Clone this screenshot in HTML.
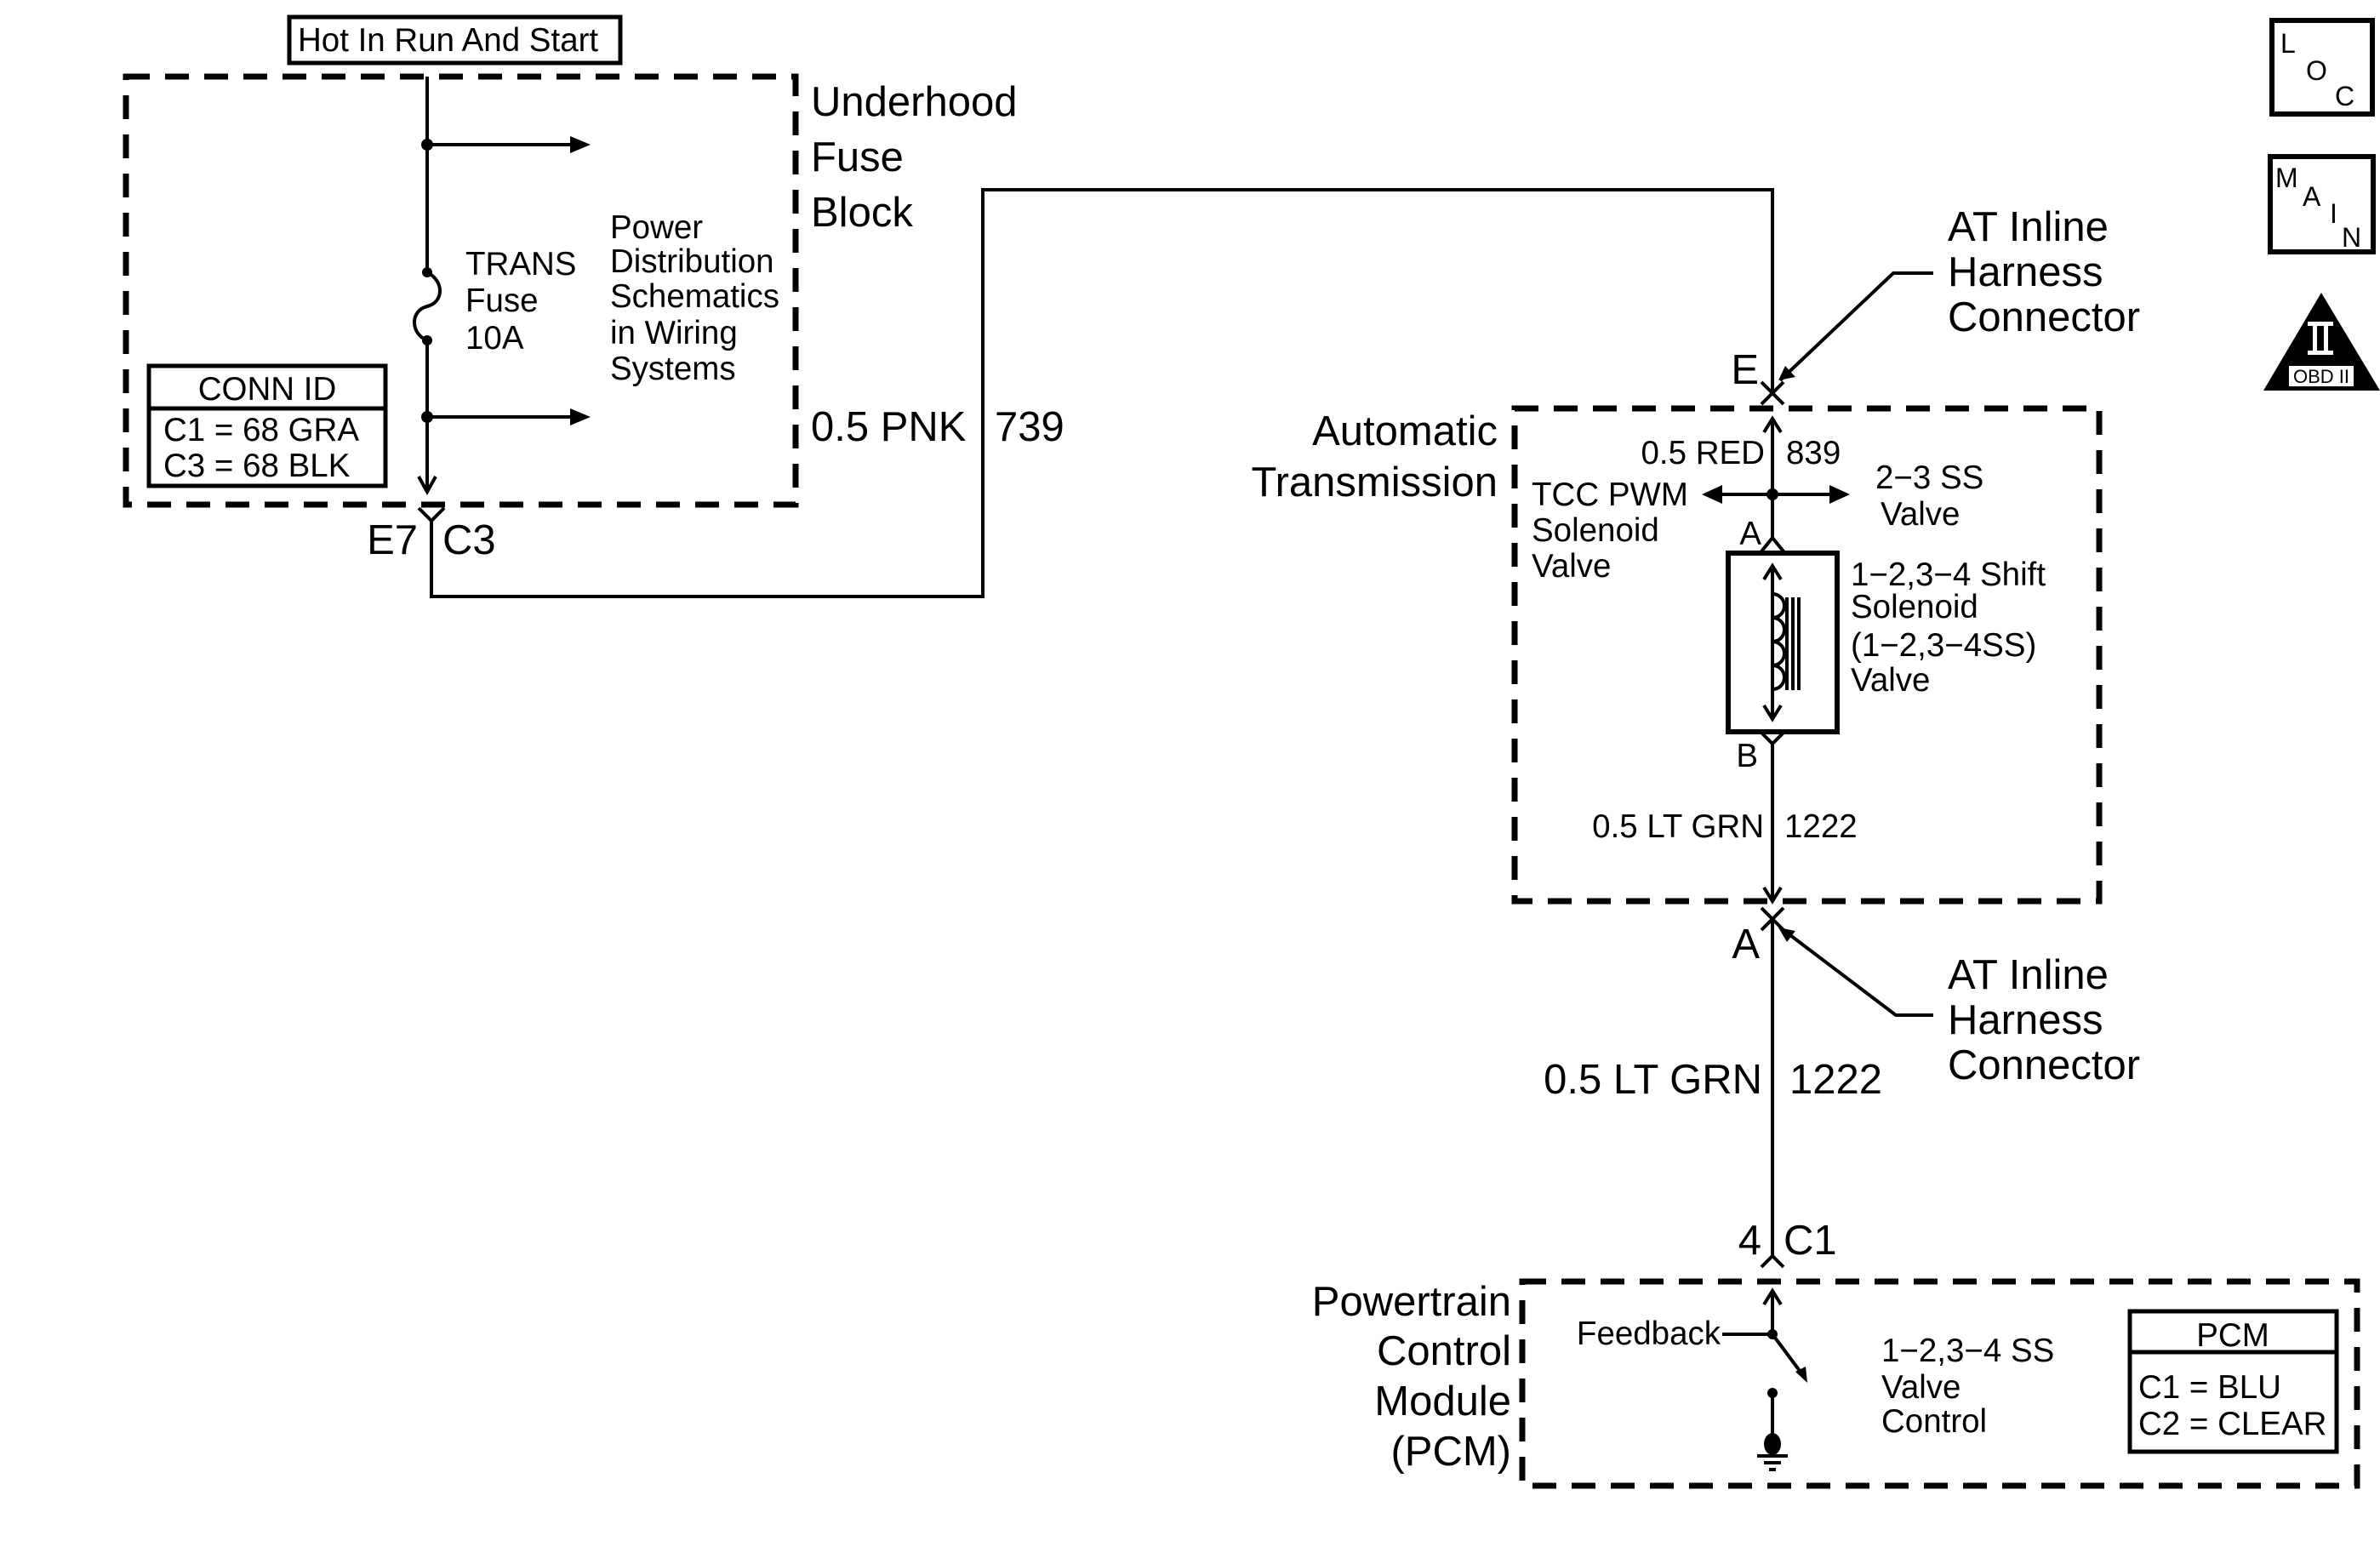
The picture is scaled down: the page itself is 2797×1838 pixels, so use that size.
<!DOCTYPE html>
<html><head><meta charset="utf-8"><style>
html,body{margin:0;padding:0;background:#fff}
svg{display:block}
text{font-family:"Liberation Sans",sans-serif;fill:#000}
.b{font-size:49px}.m{font-size:38.5px}
</style></head><body>
<svg width="2797" height="1838" viewBox="0 0 2797 1838" xmlns="http://www.w3.org/2000/svg">
<g fill="none" stroke="#000">
<g stroke-width="7" stroke-dasharray="28,18">
<rect x="148" y="90" width="787" height="503"/>
<rect x="1780" y="480" width="687" height="579"/>
<rect x="1789" y="1506" width="981" height="240"/>
</g>
<rect x="340" y="20" width="389" height="54" stroke-width="5"/>
<rect x="175" y="430" width="278" height="141" stroke-width="5"/>
<line x1="175" y1="480" x2="453" y2="480" stroke-width="5"/>
<g stroke-width="4">
<line x1="502" y1="90" x2="502" y2="320"/>
<path d="M502,320 C522,330 522,355 502,360 C482,365 482,392 502,400"/>
<line x1="502" y1="400" x2="502" y2="578"/>
<polyline points="492,560 502,578 512,560"/>
<line x1="502" y1="170" x2="670" y2="170"/>
<line x1="502" y1="490" x2="670" y2="490"/>
<polyline points="492,597 507,612 522,597"/>
<polyline points="507,612 507,701 1155,701 1155,223 2083,223 2083,462"/>
<polyline points="2070,449 2083,462 2096,449"/>
<polyline points="2070,475 2083,462 2096,475"/>
<polyline points="2272,321 2225,321 2092,447"/>
<line x1="2083" y1="492" x2="2083" y2="632"/>
<polyline points="2073,508 2083,492 2093,508"/>
<line x1="2020" y1="581" x2="2150" y2="581"/>
<polyline points="2070,648 2083,632 2096,648"/>
<rect x="2031" y="650" width="128" height="210" stroke-width="6"/>
<line x1="2083" y1="665" x2="2083" y2="845"/>
<polyline points="2073,681 2083,665 2093,681"/>
<polyline points="2073,829 2083,845 2093,829"/>
<path d="M2083,698 a14,14 0 0 1 0,28 a14,14 0 0 1 0,28 a14,14 0 0 1 0,28 a14,14 0 0 1 0,28"/>
<line x1="2100" y1="702" x2="2100" y2="811"/>
<line x1="2107" y1="702" x2="2107" y2="811"/>
<line x1="2114" y1="702" x2="2114" y2="811"/>
<polyline points="2070,861 2083,874 2096,861"/>
<line x1="2083" y1="874" x2="2083" y2="1059"/>
<polyline points="2073,1043 2083,1059 2093,1043"/>
<polyline points="2070,1067 2083,1080 2096,1067"/>
<polyline points="2070,1093 2083,1080 2096,1093"/>
<polyline points="2272,1193 2228,1193 2092,1090"/>
<line x1="2083" y1="1080" x2="2083" y2="1476"/>
<polyline points="2070,1489 2083,1476 2096,1489"/>
<line x1="2083" y1="1517" x2="2083" y2="1568"/>
<polyline points="2073,1533 2083,1517 2093,1533"/>
<line x1="2024" y1="1568" x2="2083" y2="1568"/>
<line x1="2083" y1="1568" x2="2118" y2="1615"/>
<line x1="2083" y1="1635" x2="2083" y2="1690"/>
<line x1="2065" y1="1711" x2="2101" y2="1711"/>
<line x1="2073" y1="1719" x2="2093" y2="1719"/>
<line x1="2079" y1="1727" x2="2087" y2="1727"/>
<rect x="2503" y="1541" width="243" height="165" stroke-width="5"/>
<line x1="2503" y1="1589" x2="2746" y2="1589" stroke-width="5"/>
<rect x="2670" y="24" width="118" height="110" stroke-width="6"/>
<rect x="2668" y="184" width="121" height="112" stroke-width="6"/>
</g>
</g>
<g fill="#000">
<path d="M670,160 L694,170 L670,180z"/>
<path d="M670,480 L694,490 L670,500z"/>
<circle cx="502" cy="170" r="7"/><circle cx="502" cy="490" r="7"/>
<circle cx="502" cy="320" r="6"/><circle cx="502" cy="400" r="6"/>
<circle cx="2083" cy="581" r="7"/>
<path d="M2000,581 L2024,570 L2024,592z"/>
<path d="M2174,581 L2150,570 L2150,592z"/>
<path d="M2090,447 L2110,443 L2098,430z"/>
<path d="M2090,1090 L2110,1094 L2100,1107z"/>
<path d="M2124,1625 L2110,1612 L2122,1606z"/>
<circle cx="2083" cy="1568" r="6"/>
<circle cx="2083" cy="1637" r="6"/>
<ellipse cx="2083" cy="1697" rx="10" ry="13"/>
<path d="M2728,344 L2797,459 L2660,459z"/>
</g>
<rect x="2712" y="378" width="30" height="5" fill="#fff"/>
<rect x="2712" y="412" width="30" height="5" fill="#fff"/>
<rect x="2718" y="383" width="5" height="29" fill="#fff"/>
<rect x="2731" y="383" width="5" height="29" fill="#fff"/>
<rect x="2690" y="430" width="76" height="24" fill="#fff"/>
<text x="2728" y="450" font-size="22" text-anchor="middle">OBD II</text>

<text x="350" y="60" class="m">Hot In Run And Start</text>
<text x="953" y="136" class="b">Underhood</text>
<text x="953" y="201" class="b">Fuse</text>
<text x="953" y="266" class="b">Block</text>
<text x="547" y="323" class="m">TRANS</text>
<text x="547" y="366" class="m">Fuse</text>
<text x="547" y="410" class="m">10A</text>
<text x="717" y="280" class="m">Power</text>
<text x="717" y="320" class="m">Distribution</text>
<text x="717" y="361" class="m">Schematics</text>
<text x="717" y="404" class="m">in Wiring</text>
<text x="717" y="446" class="m">Systems</text>
<text x="314" y="470" class="m" text-anchor="middle">CONN ID</text>
<text x="192" y="518" class="m">C1 = 68 GRA</text>
<text x="192" y="560" class="m">C3 = 68 BLK</text>
<text x="491" y="651" class="b" text-anchor="end">E7</text>
<text x="520" y="651" class="b">C3</text>
<text x="953" y="518" class="b">0.5 PNK</text>
<text x="1169" y="518" class="b">739</text>

<text x="2289" y="283" class="b">AT Inline</text>
<text x="2289" y="336" class="b">Harness</text>
<text x="2289" y="389" class="b">Connector</text>
<text x="2067" y="451" class="b" text-anchor="end">E</text>
<text x="1760" y="523" class="b" text-anchor="end">Automatic</text>
<text x="1760" y="583" class="b" text-anchor="end">Transmission</text>
<text x="2074" y="545" class="m" text-anchor="end">0.5 RED</text>
<text x="2099" y="545" class="m">839</text>
<text x="1800" y="594" class="m">TCC PWM</text>
<text x="1800" y="636" class="m">Solenoid</text>
<text x="1800" y="678" class="m">Valve</text>
<text x="2204" y="574" class="m">2−3 SS</text>
<text x="2210" y="617" class="m">Valve</text>
<text x="2070" y="640" class="m" text-anchor="end">A</text>
<text x="2175" y="688" class="m">1−2,3−4 Shift</text>
<text x="2175" y="726" class="m">Solenoid</text>
<text x="2175" y="771" class="m">(1−2,3−4SS)</text>
<text x="2175" y="812" class="m">Valve</text>
<text x="2066" y="901" class="m" text-anchor="end">B</text>
<text x="2073" y="984" class="m" text-anchor="end">0.5 LT GRN</text>
<text x="2097" y="984" class="m">1222</text>
<text x="2068" y="1126" class="b" text-anchor="end">A</text>
<text x="2289" y="1162" class="b">AT Inline</text>
<text x="2289" y="1215" class="b">Harness</text>
<text x="2289" y="1268" class="b">Connector</text>
<text x="2071" y="1285" class="b" text-anchor="end">0.5 LT GRN</text>
<text x="2103" y="1285" class="b">1222</text>
<text x="2070" y="1474" class="b" text-anchor="end">4</text>
<text x="2096" y="1474" class="b">C1</text>
<text x="1776" y="1546" class="b" text-anchor="end">Powertrain</text>
<text x="1776" y="1604" class="b" text-anchor="end">Control</text>
<text x="1776" y="1663" class="b" text-anchor="end">Module</text>
<text x="1776" y="1722" class="b" text-anchor="end">(PCM)</text>
<text x="2022" y="1580" class="m" text-anchor="end">Feedback</text>
<text x="2211" y="1600" class="m">1−2,3−4 SS</text>
<text x="2211" y="1643" class="m">Valve</text>
<text x="2211" y="1683" class="m">Control</text>
<text x="2624" y="1582" class="m" text-anchor="middle">PCM</text>
<text x="2513" y="1643" class="m">C1 = BLU</text>
<text x="2513" y="1686" class="m">C2 = CLEAR</text>

<text x="2680" y="62" font-size="32">L</text>
<text x="2710" y="94" font-size="32">O</text>
<text x="2744" y="124" font-size="32">C</text>
<text x="2674" y="220" font-size="32">M</text>
<text x="2706" y="242" font-size="32">A</text>
<text x="2738" y="262" font-size="32">I</text>
<text x="2752" y="290" font-size="32">N</text>
</svg>
</body></html>
